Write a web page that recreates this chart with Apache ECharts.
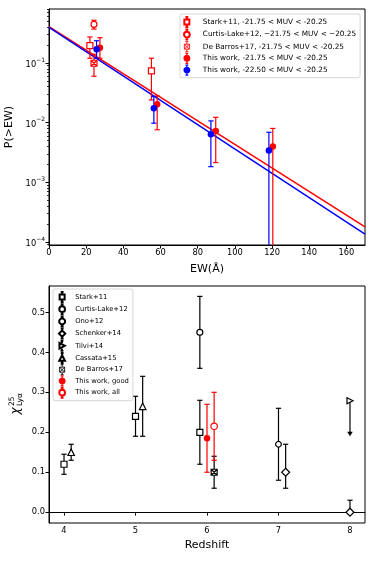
<!DOCTYPE html>
<html>
<head>
<meta charset="utf-8">
<script src="https://cdn.jsdelivr.net/npm/echarts@6/dist/echarts.min.js"></script>
<style>
html, body { margin: 0; padding: 0; background: #fff; }
#main { width: 374px; height: 561px; }
</style>
</head>
<body>
<div id="main"></div>
<script>
// top panel, rows are [EW, P(>EW), lower, upper] (lower 0 = runs off the axis)
var stark11Ew = [[22.0, 0.195, 0.12, 0.273], [55.1, 0.0735, 0.024, 0.12]];
var curtisLake12Ew = [[24.2, 0.445, 0.37, 0.52]];
var deBarros17Ew = [[24.2, 0.099, 0.06, 0.14]];
var thisWorkRedEw = [[27.4, 0.18, 0.12, 0.265], [58.2, 0.0203, 0.0076, 0.028], [89.7, 0.00726, 0.00214, 0.0123], [120.4, 0.00397, 0, 0.008]];
var thisWorkBlueEw = [[25.6, 0.17, 0.12, 0.236], [56.4, 0.0174, 0.0098, 0.0273], [87.1, 0.00638, 0.00183, 0.0107], [118.3, 0.0034, 0, 0.0069]];
var fitRed = [[0, 0.405], [170, 1.79e-4]];
var fitBlue = [[0, 0.396], [170, 1.35e-4]];
var ewTicks = [0, 20, 40, 60, 80, 100, 120, 140, 160];
var pTicks = [1e-4, 1e-3, 1e-2, 1e-1];

// bottom panel, rows are [redshift, chi, lower, upper]
var stark11Z = [[4.0, 0.12, 0.095, 0.145], [5.0, 0.24, 0.19, 0.29], [5.9, 0.20, 0.12, 0.28]];
var curtisLake12Z = [[5.9, 0.45, 0.36, 0.54]];
var ono12Z = [[7.0, 0.17, 0.08, 0.26]];
var schenker14Z = [[7.1, 0.10, 0.06, 0.17], [8.0, 0.0, 0.0, 0.03]];
var tilvi14Z = [[8.0, 0.279, 0.19]]; // upper limit, arrow down to last value
var cassata15Z = [[4.1, 0.15, 0.13, 0.17], [5.1, 0.265, 0.19, 0.34]];
var deBarros17Z = [[6.1, 0.10, 0.06, 0.14]];
var thisWorkGoodZ = [[6.0, 0.185, 0.10, 0.27]];
var thisWorkAllZ = [[6.1, 0.215, 0.13, 0.30]];
var zTicks = [4, 5, 6, 7, 8];
var chiTicks = [0, 0.1, 0.2, 0.3, 0.4, 0.5];

var FONT = 'DejaVu Sans';
var RED = '#ff0000', BLUE = '#0000ff', BLACK = '#000000';

// matplotlib style minor ticks for the log axis
var minorTicks = [];
for (var d = -5; d <= -1; d++) {
  for (var k = 2; k <= 9; k++) minorTicks.push(k * Math.pow(10, d));
}

function errorBar(logY) {
  return function (params, api) {
    var cs = params.coordSys;
    var x = api.value(0), lo = api.value(2), hi = api.value(3);
    var top = api.coord([x, hi]);
    var open = logY && !(lo > 0);
    var bot = open ? [top[0], cs.y + cs.height] : api.coord([x, lo]);
    var st = { stroke: api.visual('color'), lineWidth: 1.2 };
    var w = 2.6;
    var kids = [
      { type: 'line', shape: { x1: top[0], y1: top[1], x2: bot[0], y2: bot[1] }, style: st },
      { type: 'line', shape: { x1: top[0] - w, y1: top[1], x2: top[0] + w, y2: top[1] }, style: st }
    ];
    if (!open) kids.push({ type: 'line', shape: { x1: bot[0] - w, y1: bot[1], x2: bot[0] + w, y2: bot[1] }, style: st });
    return { type: 'group', children: kids };
  };
}

function limitArrow(params, api) {
  var x = api.value(0);
  var a = api.coord([x, api.value(1)]);
  var b = api.coord([x, api.value(2)]);
  var st = { stroke: BLACK, lineWidth: 1.2 };
  return { type: 'group', children: [
    { type: 'line', shape: { x1: a[0], y1: a[1], x2: b[0], y2: b[1] - 3 }, style: st },
    { type: 'polygon', shape: { points: [[b[0] - 2.8, b[1] - 4.5], [b[0] + 2.8, b[1] - 4.5], [b[0], b[1]]] }, style: { fill: BLACK } }
  ] };
}

function errSeries(name, data, color, xi, yi, logY) {
  return { name: name, type: 'custom', xAxisIndex: xi, yAxisIndex: yi, data: data, z: 3,
    encode: { x: 0, y: 1 }, itemStyle: { color: color }, renderItem: errorBar(logY), silent: true };
}

function markSeries(name, data, xi, yi, symbol, size, color, open, rotate) {
  return { name: name, type: 'scatter', xAxisIndex: xi, yAxisIndex: yi, data: data, z: 4,
    symbol: symbol, symbolSize: size, symbolRotate: rotate || 0,
    itemStyle: open ? { color: '#ffffff', borderColor: color, borderWidth: 1.2, opacity: 1 }
                    : { color: color, opacity: 1 } };
}

var boxX = 'path://M0,0 L10,0 L10,10 L0,10 Z M0,0 L10,10 M10,0 L0,10';
var triRight = 'path://M0,0 L10,5 L0,10 Z';
var octagon = 'path://M3,0 L7,0 L10,3 L10,7 L7,10 L3,10 L0,7 L0,3 Z';
var square = 'path://M0,0 L10,0 L10,10 L0,10 Z';

// legend glyphs: marker with its little error bar, like matplotlib's errorbar handles
var barPart = 'M5,0 L5,3 M3,0 L7,0 M5,11 L5,14 M3,14 L7,14 ';
var glyph = {
  square: 'path://' + barPart + 'M1.5,3.5 L8.5,3.5 L8.5,10.5 L1.5,10.5 Z',
  circle: 'path://' + barPart + 'M1,7 A4,4 0 1,0 9,7 A4,4 0 1,0 1,7 Z',
  octagon: 'path://' + barPart + 'M3.5,3 L6.5,3 L9,5.5 L9,8.5 L6.5,11 L3.5,11 L1,8.5 L1,5.5 Z',
  diamond: 'path://' + barPart + 'M5,2.6 L9.4,7 L5,11.4 L0.6,7 Z',
  tri: 'path://' + barPart + 'M5,3 L9,11 L1,11 Z',
  triRight: 'path://' + barPart + 'M1.5,3 L9,7 L1.5,11 Z',
  boxX: 'path://' + barPart + 'M1.5,3.5 L8.5,3.5 L8.5,10.5 L1.5,10.5 Z M1.5,3.5 L8.5,10.5 M8.5,3.5 L1.5,10.5'
};
function leg(name, icon, color, filled, thin) {
  var it = { name: name, icon: icon };
  if (filled) it.itemStyle = { color: color, borderColor: color, borderWidth: 1.2 };
  if (thin) it.itemStyle = { borderWidth: 0.9 };
  return it;
}

function logLabel(v) {
  var e = Math.round(Math.log(v) / Math.LN10);
  return '{b|10}{e|\u2212' + (-e) + '}';
}

var tickLabel = { color: BLACK, fontFamily: FONT, fontSize: 8.3, margin: 4 };

var nT = {
  stark: 'Stark+11, -21.75 < MUV < -20.25',
  curtis: 'Curtis-Lake+12, \u221221.75 < MUV < \u221220.25',
  deb: 'De Barros+17, -21.75 < MUV < -20.25',
  red: 'This work, -21.75 < MUV < -20.25',
  blue: 'This work, -22.50 < MUV < -20.25'
};

var option = {
  animation: false,
  backgroundColor: '#ffffff',
  textStyle: { fontFamily: FONT },
  grid: [
    { left: 49, top: 9, width: 316, height: 236, show: true, borderColor: BLACK, borderWidth: 1, outerBoundsMode: 'none', containLabel: false },
    { left: 49, top: 286, width: 316, height: 237, show: true, borderColor: BLACK, borderWidth: 1, outerBoundsMode: 'none', containLabel: false }
  ],
  xAxis: [
    { type: 'value', gridIndex: 0, min: 0, max: 170,
      name: 'EW(\u00c5)', nameLocation: 'middle', nameGap: 19,
      nameTextStyle: { color: BLACK, fontFamily: FONT, fontSize: 11 },
      axisLine: { lineStyle: { color: BLACK } },
      axisTick: { length: 3.5, lineStyle: { color: BLACK }, customValues: ewTicks },
      axisLabel: Object.assign({ customValues: ewTicks }, tickLabel),
      splitLine: { show: false } },
    { type: 'value', gridIndex: 1, min: 3.79, max: 8.21,
      name: 'Redshift', nameLocation: 'middle', nameGap: 17,
      nameTextStyle: { color: BLACK, fontFamily: FONT, fontSize: 11 },
      axisLine: { lineStyle: { color: BLACK } },
      axisTick: { length: 3.5, lineStyle: { color: BLACK }, customValues: zTicks },
      axisLabel: Object.assign({ customValues: zTicks }, tickLabel),
      splitLine: { show: false } }
  ],
  yAxis: [
    { type: 'log', gridIndex: 0, min: 8.9e-5, max: 0.803, logBase: 10,
      name: 'P(>EW)', nameLocation: 'middle', nameGap: 22,
      nameTextStyle: { color: BLACK, fontFamily: FONT, fontSize: 11 },
      axisLine: { lineStyle: { color: BLACK } },
      axisTick: { length: 3.5, lineStyle: { color: BLACK }, customValues: pTicks },
      axisLabel: Object.assign({ customValues: pTicks, formatter: logLabel,
        rich: { b: { fontFamily: FONT, fontSize: 8.3, color: BLACK, lineHeight: 12, verticalAlign: 'bottom' },
                e: { fontFamily: FONT, fontSize: 6, color: BLACK, lineHeight: 12, verticalAlign: 'top' } } }, tickLabel),
      splitLine: { show: false } },
    { type: 'log', gridIndex: 0, min: 8.9e-5, max: 0.803, logBase: 10, position: 'left',
      axisLine: { show: false },
      axisTick: { length: 2, lineStyle: { color: BLACK, width: 0.8 }, customValues: minorTicks },
      axisLabel: { show: false }, splitLine: { show: false } },
    { type: 'value', gridIndex: 1, min: -0.027, max: 0.566,
      axisLine: { lineStyle: { color: BLACK } },
      axisTick: { length: 3.5, lineStyle: { color: BLACK }, customValues: chiTicks },
      axisLabel: Object.assign({ customValues: chiTicks, formatter: function (v) { return v.toFixed(1); } }, tickLabel),
      splitLine: { show: false } }
  ],
  legend: [
    { orient: 'vertical', left: 180, top: 14, padding: [2, 4, 2, 3], itemGap: 0.6,
      itemWidth: 8, itemHeight: 10, borderColor: '#cccccc', borderWidth: 0.8, borderRadius: 2,
      backgroundColor: '#ffffff', selectedMode: false,
      textStyle: { color: BLACK, fontFamily: FONT, fontSize: 7.3, lineHeight: 9, padding: [0, 0, 0, 7] },
      data: [leg(nT.stark, glyph.square), leg(nT.curtis, glyph.circle), leg(nT.deb, glyph.boxX, null, false, true),
             leg(nT.red, glyph.circle, RED, true), leg(nT.blue, glyph.circle, BLUE, true)] },
    { orient: 'vertical', left: 53, top: 289, padding: [2, 4, 2, 5], itemGap: 0.2,
      itemWidth: 8, itemHeight: 10, borderColor: '#cccccc', borderWidth: 0.8, borderRadius: 2,
      backgroundColor: '#ffffff', selectedMode: false,
      textStyle: { color: BLACK, fontFamily: FONT, fontSize: 6.8, lineHeight: 9, padding: [0, 0, 0, 4] },
      data: [leg('Stark+11', glyph.square), leg('Curtis-Lake+12', glyph.circle), leg('Ono+12', glyph.octagon),
             leg('Schenker+14', glyph.diamond), leg('Tilvi+14', glyph.triRight), leg('Cassata+15', glyph.tri),
             leg('De Barros+17', glyph.boxX, null, false, true), leg('This work, good', glyph.circle, RED, true),
             leg('This work, all', glyph.circle)] }
  ],
  graphic: [
    { type: 'group', x: 16, y: 404, rotation: Math.PI / 2, children: [
      { type: 'text', x: -7, y: 0, style: { text: '\u03c7', fontFamily: FONT, fontStyle: 'italic', fontSize: 12, fill: BLACK, align: 'center', verticalAlign: 'middle' } },
      { type: 'text', x: -2, y: -4, style: { text: '25', fontFamily: FONT, fontSize: 7.5, fill: BLACK, align: 'left', verticalAlign: 'middle' } },
      { type: 'text', x: -2, y: 4.5, style: { text: 'Ly\u03b1', fontFamily: FONT, fontSize: 7.5, fill: BLACK, align: 'left', verticalAlign: 'middle' } }
    ] }
  ],
  series: [
    { name: 'fit red', type: 'line', xAxisIndex: 0, yAxisIndex: 0, data: fitRed, symbol: 'none', z: 2,
      lineStyle: { color: RED, width: 1.5 }, silent: true },
    { name: 'fit blue', type: 'line', xAxisIndex: 0, yAxisIndex: 0, data: fitBlue, symbol: 'none', z: 2,
      lineStyle: { color: BLUE, width: 1.5 }, silent: true },

    errSeries('e1', stark11Ew, RED, 0, 0, true),
    errSeries('e2', curtisLake12Ew, RED, 0, 0, true),
    errSeries('e3', deBarros17Ew, RED, 0, 0, true),
    errSeries('e4', thisWorkRedEw, RED, 0, 0, true),
    errSeries('e5', thisWorkBlueEw, BLUE, 0, 0, true),
    markSeries(nT.stark, stark11Ew, 0, 0, square, 6, RED, true),
    markSeries(nT.curtis, curtisLake12Ew, 0, 0, 'circle', 6, RED, true),
    markSeries(nT.deb, deBarros17Ew, 0, 0, boxX, 6, RED, true),
    markSeries(nT.red, thisWorkRedEw, 0, 0, 'circle', 6.5, RED, false),
    markSeries(nT.blue, thisWorkBlueEw, 0, 0, 'circle', 6.5, BLUE, false),

    errSeries('f1', stark11Z, BLACK, 1, 2, false),
    errSeries('f2', curtisLake12Z, BLACK, 1, 2, false),
    errSeries('f3', ono12Z, BLACK, 1, 2, false),
    errSeries('f4', schenker14Z, BLACK, 1, 2, false),
    errSeries('f5', cassata15Z, BLACK, 1, 2, false),
    errSeries('f6', deBarros17Z, BLACK, 1, 2, false),
    errSeries('f7', thisWorkGoodZ, RED, 1, 2, false),
    errSeries('f8', thisWorkAllZ, RED, 1, 2, false),
    { name: 'tilvi limit', type: 'custom', xAxisIndex: 1, yAxisIndex: 2, data: tilvi14Z, z: 3,
      encode: { x: 0, y: 1 }, renderItem: limitArrow, silent: true },
    markSeries('Stark+11', stark11Z, 1, 2, square, 6, BLACK, true),
    markSeries('Curtis-Lake+12', curtisLake12Z, 1, 2, 'circle', 6, BLACK, true),
    markSeries('Ono+12', ono12Z, 1, 2, octagon, 5.5, BLACK, true),
    markSeries('Schenker+14', schenker14Z, 1, 2, 'diamond', 8, BLACK, true),
    markSeries('Tilvi+14', tilvi14Z, 1, 2, triRight, 6, BLACK, true),
    markSeries('Cassata+15', cassata15Z, 1, 2, 'triangle', 6.5, BLACK, true),
    markSeries('De Barros+17', deBarros17Z, 1, 2, boxX, 6, BLACK, true),
    markSeries('This work, good', thisWorkGoodZ, 1, 2, 'circle', 6.5, RED, false),
    markSeries('This work, all', thisWorkAllZ, 1, 2, 'circle', 6.5, RED, true)
  ]
};

var chart = echarts.init(document.getElementById('main'), null, { renderer: 'canvas' });
chart.setOption(option);
</script>
</body>
</html>
